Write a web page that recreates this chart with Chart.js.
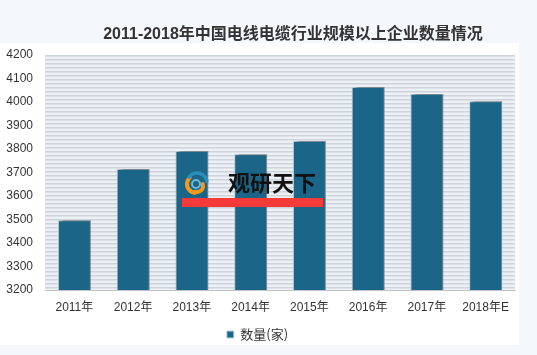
<!DOCTYPE html>
<html>
<head>
<meta charset="utf-8">
<script src="https://cdn.jsdelivr.net/npm/chart.js@4/dist/chart.umd.min.js"></script>
<style>
  html,body{margin:0;padding:0;background:#f4f8fc;}
  #wrap{position:relative;width:537px;height:355px;overflow:hidden;}
  #title{position:absolute;left:93px;width:400px;top:20px;text-align:center;
    font:bold 16px "Liberation Sans","Noto Sans CJK SC",sans-serif;color:#333;white-space:nowrap;}
  canvas{position:absolute;left:0;top:0;}
</style>
</head>
<body>
<div id="wrap">
<canvas id="c" width="537" height="355"></canvas>
<div id="title">2011-2018年中国电线电缆行业规模以上企业数量情况</div>
</div>
<script>
const categories = ["2011年","2012年","2013年","2014年","2015年","2016年","2017年","2018年E"];
const seriesName = "数量(家)";
const counts = [3497, 3715, 3792, 3778, 3834, 4064, 4034, 4003];
const yTicks = [3200,3300,3400,3500,3600,3700,3800,3900,4000,4100,4200];

const bgPlugin = {
  id:'bg',
  beforeDraw(chart){
    const ctx = chart.ctx, a = chart.chartArea;
    ctx.save();
    ctx.fillStyle = '#f4f8fc';
    ctx.fillRect(0,0,chart.width,chart.height);
    ctx.fillStyle = '#ffffff';
    ctx.fillRect(0,43,519,302);
    const pc = document.createElement('canvas');
    pc.width = 4; pc.height = 4;
    const p = pc.getContext('2d');
    p.fillStyle = '#edf1f6'; p.fillRect(0,0,4,4);
    p.fillStyle = '#cdd3da'; p.fillRect(0,0,4,1);
    p.fillStyle = '#dde2e8'; p.fillRect(0,1,4,1);
    const pat = ctx.createPattern(pc,'repeat');
    ctx.translate(a.left, a.top);
    ctx.fillStyle = pat;
    ctx.fillRect(0,0,a.right-a.left,a.bottom-a.top);
    ctx.restore();
  }
};

const shadowPlugin = {
  id:'shadow',
  beforeDatasetsDraw(chart){
    const ctx = chart.ctx;
    ctx.save();
    ctx.shadowColor = 'rgba(60,60,60,0.55)';
    ctx.shadowBlur = 4;
    ctx.shadowOffsetX = 3;
    ctx.shadowOffsetY = -3;
  },
  afterDatasetsDraw(chart){
    chart.ctx.restore();
  }
};

const watermarkPlugin = {
  id:'wm',
  afterDraw(chart){
    const ctx = chart.ctx;
    ctx.save();
    ctx.lineCap = 'round';
    ctx.strokeStyle = '#f39a1e'; ctx.lineWidth = 4;
    ctx.beginPath(); ctx.arc(196,184,9,Math.PI*0.55,Math.PI*1.25); ctx.stroke();
    ctx.beginPath(); ctx.arc(197,186,6,Math.PI*1.9,Math.PI*0.6); ctx.stroke();
    ctx.strokeStyle = '#2a8fb8'; ctx.lineWidth = 3.5;
    ctx.beginPath(); ctx.arc(197,183,10,Math.PI*1.2,Math.PI*1.95); ctx.stroke();
    ctx.strokeStyle = '#6fb9d6'; ctx.lineWidth = 2;
    ctx.beginPath(); ctx.arc(196,184,4,0,Math.PI*2); ctx.stroke();
    ctx.fillStyle = '#111';
    ctx.font = 'bold 22px "Noto Sans CJK SC", sans-serif';
    ctx.textBaseline = 'middle';
    ctx.fillText('观研天下', 228, 183);
    ctx.fillStyle = '#f53a3a';
    ctx.fillRect(182,198,141,9);
    ctx.restore();
  }
};

new Chart(document.getElementById('c'), {
  type:'bar',
  data:{
    labels: categories,
    datasets:[{
      label: seriesName,
      data: counts,
      backgroundColor:'#1b6589',
      borderColor:'#b8d3e0',
      borderWidth:1,
      categoryPercentage:1,
      barPercentage:0.56
    }]
  },
  options:{
    responsive:false,
    animation:false,
    devicePixelRatio:1,
    layout:{padding:{top:55,right:22,bottom:4,left:0}},
    plugins:{
      title:{display:false},
      tooltip:{enabled:false},
      legend:{
        position:'bottom',
        labels:{
          boxWidth:7, boxHeight:7, padding:8,
          color:'#333',
          font:{size:13, family:'"Noto Sans CJK SC","Liberation Sans",sans-serif'}
        }
      }
    },
    scales:{
      x:{
        grid:{display:false, drawTicks:false},
        border:{display:true, color:'#bfc3c8', width:1},
        ticks:{color:'#333', padding:10, font:{size:12, family:'"Liberation Sans","Noto Sans CJK SC",sans-serif'}},
        afterFit(s){ s.height = 30; }
      },
      y:{
        min:3200, max:4200,
        afterBuildTicks(s){ s.ticks = yTicks.map(v=>({value:v})); },
        grid:{display:false, drawTicks:false},
        border:{display:false},
        ticks:{color:'#333', padding:12, callback:(v)=>String(v), font:{size:12, family:'"Liberation Sans",sans-serif'}},
        afterFit(s){ s.width = 45; }
      }
    }
  },
  plugins:[bgPlugin, shadowPlugin, watermarkPlugin]
});
</script>
</body>
</html>
